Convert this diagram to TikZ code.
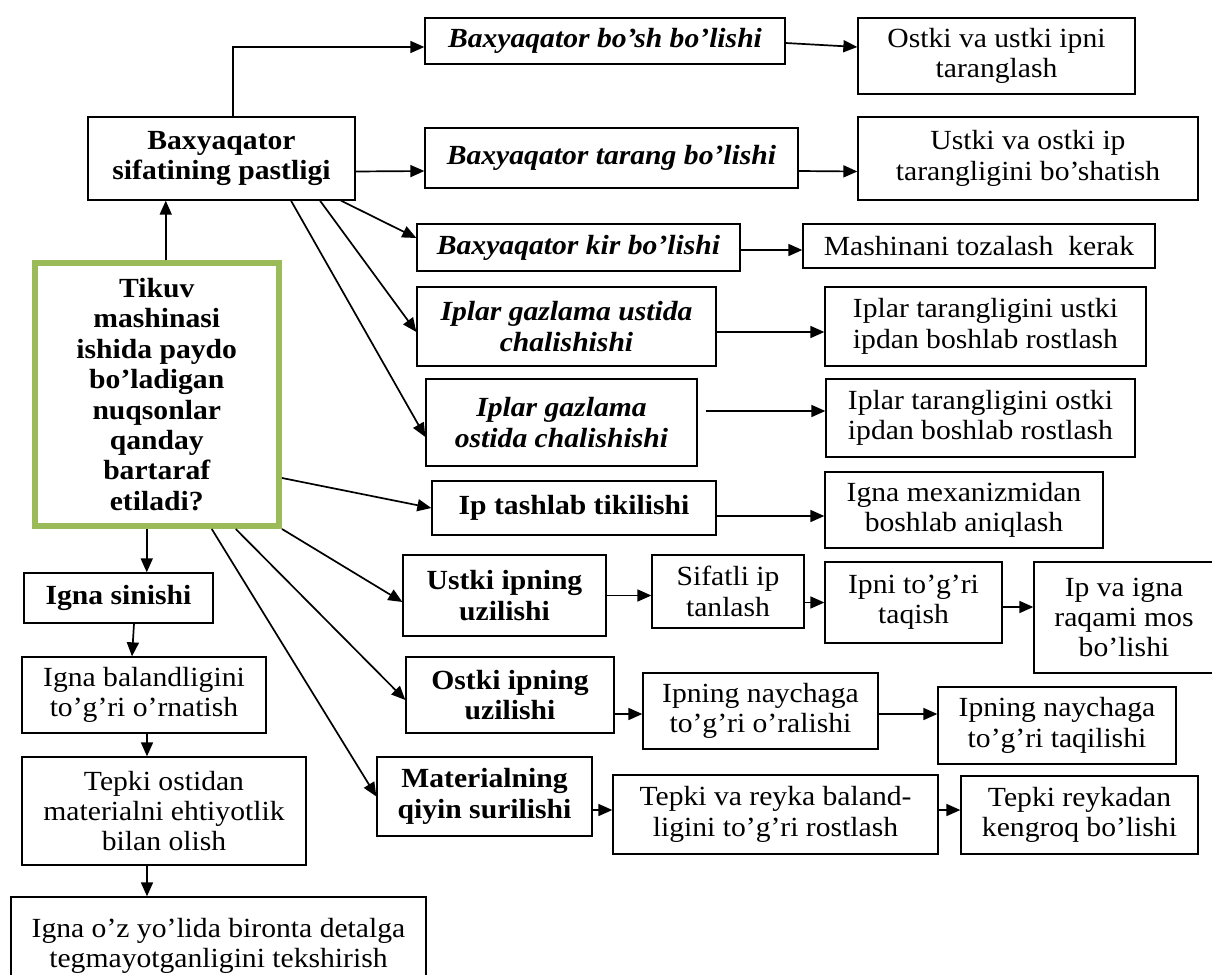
\documentclass[tikz,border=0pt]{standalone}
\usepackage{fontspec}
\setmainfont[FakeStretch=1.07]{Liberation Serif}
\usetikzlibrary{arrows.meta,calc}
\definecolor{qgreen}{RGB}{155,187,89}
\tikzset{
  box/.style={draw, line width=1.3pt, inner sep=0pt, align=center,
    font=\fontsize{27.7}{30.4}\selectfont},
  cause/.style={box, font=\fontsize{27.7}{30.4}\selectfont\bfseries\itshape},
  boldbox/.style={box, font=\fontsize{27.7}{30.4}\selectfont\bfseries},
  qbox/.style={draw=qgreen, line width=6pt, inner sep=0pt, align=center,
    font=\fontsize{27.7}{30.4}\selectfont\bfseries},
  arr/.style={line width=1.7pt, -{Triangle[length=14pt,width=12pt]}},
}
\begin{document}
\begin{tikzpicture}[x=1pt,y=-1pt]
\useasboundingbox (0,0) rectangle (1212,974);
\fill[white] (0,0) rectangle (1212,974);
% main nodes
\node[boldbox, minimum width=267pt, minimum height=83pt] (main) at (221.5,158.5) {Baxyaqator\\sifatining pastligi};
\node[qbox, minimum width=244.5pt, minimum height=263pt] (Q) at (156.75,394.5) {Tikuv\\mashinasi\\ishida paydo\\bo’ladigan\\nuqsonlar\\qanday\\bartaraf\\etiladi?};
% causes from main
\node[cause, minimum width=360pt, minimum height=46pt] (B1) at (605,41) {Baxyaqator bo’sh bo’lishi};
\node[box, minimum width=277pt, minimum height=76pt] (N1) at (996.5,56) {Ostki va ustki ipni\\taranglash};
\node[cause, minimum width=373pt, minimum height=60pt] (B2) at (611.5,158) {Baxyaqator tarang bo’lishi};
\node[box, minimum width=340pt, minimum height=83pt] (N2) at (1028,158.5) {Ustki va ostki ip\\tarangligini bo’shatish};
\node[cause, minimum width=323pt, minimum height=47pt] (B3) at (578.5,247.5) {Baxyaqator kir bo’lishi};
\node[box, minimum width=352pt, minimum height=44pt] (N3) at (979,246) {Mashinani tozalash\ \ kerak};
\node[cause, minimum width=299pt, minimum height=79pt] (B4) at (566.5,326.5) {Iplar gazlama ustida\\chalishishi};
\node[box, minimum width=321pt, minimum height=79pt] (N4) at (985.5,326.5) {Iplar tarangligini ustki\\ipdan boshlab rostlash};
\node[cause, minimum width=271pt, minimum height=87pt] (B5) at (561.5,422.5) {Iplar gazlama\\ostida chalishishi};
\node[box, minimum width=309pt, minimum height=78pt] (N5) at (980.5,418) {Iplar tarangligini ostki\\ipdan boshlab rostlash};
% causes from Q
\node[boldbox, minimum width=284pt, minimum height=54pt] (B6) at (574,508) {Ip tashlab tikilishi};
\node[box, minimum width=278pt, minimum height=76pt] (N6) at (964,510) {Igna mexanizmidan\\boshlab aniqlash};
\node[boldbox, minimum width=203pt, minimum height=81pt] (B7) at (504.5,595.5) {Ustki ipning\\uzilishi};
\node[box, minimum width=152pt, minimum height=73pt] (S1) at (728,591.5) {Sifatli ip\\tanlash};
\node[box, minimum width=177pt, minimum height=81pt] (S2) at (913.5,602.5) {Ipni to’g’ri\\taqish};
\node[box, minimum width=180pt, minimum height=111pt] (S3) at (1124,617.5) {Ip va igna\\raqami mos\\bo’lishi};
\node[boldbox, minimum width=208pt, minimum height=76pt] (B8) at (510,695) {Ostki ipning\\uzilishi};
\node[box, minimum width=235pt, minimum height=76pt] (P1) at (760.5,711) {Ipning naychaga\\to’g’ri o’ralishi};
\node[box, minimum width=238pt, minimum height=77pt] (P2) at (1057,725.5) {Ipning naychaga\\to’g’ri taqilishi};
\node[boldbox, minimum width=215pt, minimum height=79pt] (B9) at (484.5,796.5) {Materialning\\qiyin surilishi};
\node[box, minimum width=325pt, minimum height=79pt] (T1) at (775.5,814.5) {Tepki va reyka baland-\\ligini to’g’ri rostlash};
\node[box, minimum width=237pt, minimum height=78pt] (T2) at (1079.5,815) {Tepki reykadan\\kengroq bo’lishi};
% left column
\node[boldbox, minimum width=189pt, minimum height=50pt] (IS) at (118.5,598) {Igna sinishi};
\node[box, minimum width=244pt, minimum height=76pt] (IB) at (144,695) {Igna balandligini\\to’g’ri o’rnatish};
\node[box, minimum width=284pt, minimum height=108pt] (TO) at (164,811) {Tepki ostidan\\materialni ehtiyotlik\\bilan olish};
\node[box, minimum width=415pt, minimum height=98pt] (IO) at (218.5,946) {Igna o’z yo’lida bironta detalga\\tegmayotganligini tekshirish};
% arrows
\draw[arr] ([xshift=9pt]Q.north) -- ([xshift=9pt]Q.north |- main.south);
\draw[arr] ([xshift=11.5pt]main.north) |- ([yshift=-6pt]B1.west);
\draw[arr] ([yshift=-2pt]B1.east) -- ([yshift=9pt]N1.west);
\draw[arr] ([yshift=-13pt]main.east) -- ([yshift=-13pt]B2.west);
\draw[arr] ([yshift=-13pt]B2.east) -- ([yshift=-13pt]N2.west);
\draw[arr] ([xshift=119.5pt]main.south) -- ([yshift=9.5pt]B3.west);
\draw[arr] ([yshift=-2.5pt]B3.east) -- ([yshift=-4pt]N3.west);
\draw[arr] ([xshift=98.5pt]main.south) -- ([yshift=-5.5pt]B4.west);
\draw[arr] ([yshift=-5.5pt]B4.east) -- ([yshift=-5.5pt]N4.west);
\draw[arr] ([xshift=69.5pt]main.south) -- ([yshift=-14.5pt]B5.west);
\draw[arr] ([xshift=8pt,yshift=11.5pt]B5.east) -- ([yshift=7pt]N5.west);
\draw[arr] ([yshift=-83.5pt]Q.east) -- (B6.west);
\draw[arr] ([yshift=-8pt]B6.east) -- ([yshift=-6pt]N6.west);
\draw[arr] (Q.south east) -- ([yshift=-6.5pt]B7.west);
\draw[arr] (B7.east) -- (B7.east -| S1.west);
\draw[arr] (S2.west -| S1.east) -- (S2.west);
\draw[arr] ([yshift=-4.5pt]S2.east) -- ([yshift=-4.5pt]S2.east -| S3.west);
\draw[arr] ([xshift=-10pt]Q.south) -- ([xshift=-10pt]Q.south |- IS.north);
\draw[arr] ([xshift=79pt]Q.south) -- ([yshift=-5pt]B8.west);
\draw[arr] ([xshift=55pt]Q.south) -- (B9.west);
\draw[arr] ([yshift=-19pt]B8.east) -- ([yshift=-3pt]P1.west);
\draw[arr] ([yshift=-3pt]P1.east) -- ([yshift=11.5pt]P2.west);
\draw[arr] ([yshift=-13.5pt]B9.east) -- ([yshift=4.5pt]T1.west);
\draw[arr] ([yshift=4.5pt]T1.east) -- ([yshift=5pt]T2.west);
\draw[arr] ([xshift=15.5pt]IS.south) -- ([xshift=-12pt]IB.north);
\draw[arr] ([xshift=3pt]IB.south) -- ([xshift=-17pt]TO.north);
\draw[arr] ([xshift=-17pt]TO.south) -- ([xshift=-71.5pt]IO.north);
\end{tikzpicture}
\end{document}
